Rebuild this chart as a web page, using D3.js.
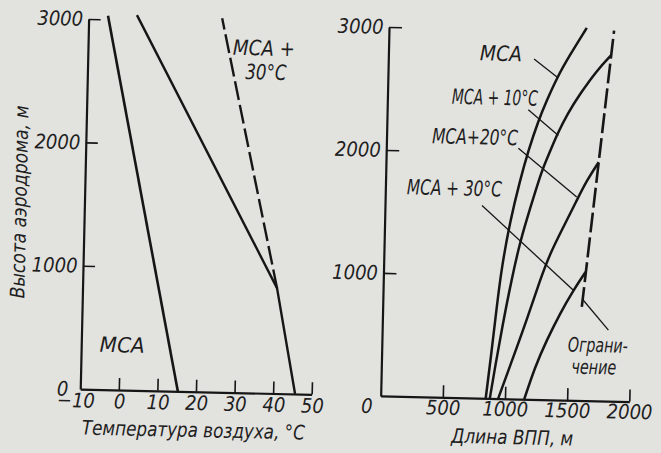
<!DOCTYPE html>
<html><head><meta charset="utf-8">
<script src="https://cdn.jsdelivr.net/npm/d3@7"></script>
<style>
html,body{margin:0;padding:0;background:#e2e2df;}
svg{display:block;background:#e2e2df;}
text{font-family:"Liberation Sans Narrow","DejaVu Sans Condensed","Liberation Sans",sans-serif;font-style:italic;fill:#1e1e1e;}
</style></head><body>
<svg id="c" width="661" height="453"></svg>
<script>
// ---------- data ----------
const tempTicks = [-10, 0, 10, 20, 30, 40, 50];
const heightTicks = [0, 1000, 2000, 3000];
const lengthTicks = [0, 500, 1000, 1500, 2000];

// left panel: air temperature (°C) vs aerodrome elevation (m)
const msaTemp = [15.3, -5.0];
const msaTempHeight = [0, 3030];
const limitTemp = [45.7, 40.4, 2.5];
const limitTempHeight = [0, 854, 3040];
const msa30Temp = [40.4, 24.6];
const msa30TempHeight = [854, 3030];

// right panel: runway length (m) vs aerodrome elevation (m)
const rwyMsaLen = [845, 885, 917, 950, 1010, 1081, 1143, 1218, 1281, 1362, 1450, 1590];
const rwyMsaH   = [0, 393, 745, 1070, 1450, 1777, 2022, 2267, 2431, 2623, 2790, 3029];
const rwyMsa10Len = [878, 915, 965, 1030, 1095, 1170, 1254, 1310, 1373, 1450, 1548, 1678, 1790];
const rwyMsa10H   = [0, 258, 583, 964, 1290, 1560, 1862, 2000, 2163, 2327, 2492, 2684, 2810];
const rwyMsa20Len = [945, 1060, 1160, 1260, 1336, 1438, 1541, 1618, 1710];
const rwyMsa20H   = [0, 342, 643, 970, 1188, 1406, 1625, 1789, 1940];
const rwyMsa30Len = [1155, 1236, 1325, 1427, 1530, 1625];
const rwyMsa30H   = [0, 265, 484, 703, 894, 1045];
const rwyLimitLen = [1601, 1810];
const rwyLimitH   = [760, 3012];

// leader lines (from label to curve), in data units [length, height]
const leaderMsa   = [[1172, 2767], [1362, 2623]];
const leaderMsa10 = [[1135, 2353], [1381, 2150]];
const leaderMsa20 = [[1062, 2039], [1540, 1652]];
const leaderMsa30 = [[780, 1567], [1530, 894]];
const leaderLimit = [[1612, 815], [1819, 576]];

// ---------- drawing ----------
const ink = "#161616";
const svg = d3.select("#c");
const g = svg.append("g").attr("transform", "rotate(1.3,330,226)");

const xL = d3.scaleLinear().domain([-10, 50]).range([84, 315.5]);
const yL = d3.scaleLinear().domain([0, 3000]).range([394.7, 24.5]);
const xR = d3.scaleLinear().domain([0, 2000]).range([384.5, 633.2]);
const yR = d3.scaleLinear().domain([0, 3000]).range([394.7, 25.7]);

function styleAxis(sel) {
  sel.select(".domain").attr("stroke", ink).attr("stroke-width", 2.2);
  sel.selectAll(".tick line").attr("stroke", ink).attr("stroke-width", 1.6);
  sel.selectAll(".tick text").remove();
}

// left axes
g.append("g").attr("transform", `translate(0,${yL(0)})`)
  .call(d3.axisBottom(xL).tickValues(tempTicks.slice(1)).tickSizeInner(-12).tickSizeOuter(0).tickFormat(""))
  .call(styleAxis);
g.append("g").attr("transform", `translate(${xL(-10)},0)`)
  .call(d3.axisLeft(yL).tickValues(heightTicks.slice(1)).tickSizeInner(-12).tickSizeOuter(0).tickFormat(""))
  .call(styleAxis);

// right axes
g.append("g").attr("transform", `translate(0,${yR(0)})`)
  .call(d3.axisBottom(xR).tickValues(lengthTicks.slice(1)).tickSizeInner(-12).tickSizeOuter(0).tickFormat(""))
  .call(styleAxis);
g.append("g").attr("transform", `translate(${xR(0)},0)`)
  .call(d3.axisLeft(yR).tickValues(heightTicks.slice(1)).tickSizeInner(-13).tickSizeOuter(0).tickFormat(""))
  .call(styleAxis);

// tick labels
const tickFont = 20;
g.selectAll(".tlx").data(tempTicks).join("text")
  .attr("x", d => xL(d) + (d < 0 ? -4 : 1)).attr("y", 413)
  .attr("text-anchor", "middle").attr("font-size", tickFont)
  .text(d => d < 0 ? "\u2212" + Math.abs(d) : d);
g.selectAll(".tly").data(heightTicks).join("text")
  .attr("x", d => d === 0 ? xL(-10) - 12 : xL(-10) - 5.5)
  .attr("y", d => yL(d) + 7)
  .attr("text-anchor", "end").attr("font-size", tickFont)
  .text(d => d);
g.selectAll(".trx").data(lengthTicks).join("text")
  .attr("x", d => d === 0 ? xR(d) - 13.5 : xR(d) + 0.5).attr("y", 412)
  .attr("text-anchor", "middle").attr("font-size", tickFont)
  .text(d => d);
g.selectAll(".try").data(heightTicks.slice(1)).join("text")
  .attr("x", xR(0) - 5.5).attr("y", d => yR(d) + 7)
  .attr("text-anchor", "end").attr("font-size", tickFont)
  .text(d => d);

// axis titles
g.append("text").attr("transform", "translate(26,209) rotate(-90)")
  .attr("text-anchor", "middle").attr("font-size", 20)
  .attr("textLength", 193).attr("lengthAdjust", "spacingAndGlyphs")
  .text("Высота аэродрома, м");
g.append("text").attr("x", 198).attr("y", 440)
  .attr("text-anchor", "middle").attr("font-size", 20)
  .attr("textLength", 223).attr("lengthAdjust", "spacingAndGlyphs")
  .text("Температура воздуха, °С");
g.append("text").attr("x", 517).attr("y", 440)
  .attr("text-anchor", "middle").attr("font-size", 20)
  .attr("textLength", 122).attr("lengthAdjust", "spacingAndGlyphs")
  .text("Длина ВПП, м");

// left curves
function lineL(t, h) { return d3.line().x(d => xL(t[d])).y(d => yL(h[d]))(d3.range(t.length)); }
g.append("path").attr("d", lineL(msaTemp, msaTempHeight))
  .attr("fill", "none").attr("stroke", ink).attr("stroke-width", 2.6);
g.append("path").attr("d", lineL(limitTemp, limitTempHeight))
  .attr("fill", "none").attr("stroke", ink).attr("stroke-width", 2.4).attr("stroke-linejoin", "round");
g.append("path").attr("d", lineL(msa30Temp, msa30TempHeight))
  .attr("fill", "none").attr("stroke", ink).attr("stroke-width", 2.4).attr("stroke-dasharray", "19,5");

// right curves
function lineR(l, h, curve) {
  return d3.line().x(d => xR(l[d])).y(d => yR(h[d])).curve(curve || d3.curveLinear)(d3.range(l.length));
}
[[rwyMsaLen, rwyMsaH], [rwyMsa10Len, rwyMsa10H], [rwyMsa20Len, rwyMsa20H], [rwyMsa30Len, rwyMsa30H]]
  .forEach(([l, h]) => {
    g.append("path").attr("d", lineR(l, h, d3.curveBasis))
      .attr("fill", "none").attr("stroke", ink).attr("stroke-width", 2.5);
  });
g.append("path").attr("d", lineR(rwyLimitLen, rwyLimitH))
  .attr("fill", "none").attr("stroke", ink).attr("stroke-width", 2.6).attr("stroke-dasharray", "20,5");

// leader lines
[leaderMsa, leaderMsa10, leaderMsa20, leaderMsa30, leaderLimit].forEach(seg => {
  g.append("line")
    .attr("x1", xR(seg[0][0])).attr("y1", yR(seg[0][1]))
    .attr("x2", xR(seg[1][0])).attr("y2", yR(seg[1][1]))
    .attr("stroke", ink).attr("stroke-width", 1.3);
});

// annotations
function label(x, y, txt, w, fs) {
  g.append("text").attr("x", x).attr("y", y).attr("text-anchor", "middle")
    .attr("font-size", fs || 21).attr("textLength", w).attr("lengthAdjust", "spacingAndGlyphs")
    .text(txt);
}
label(260, 57, "МСА +", 62);
label(262.5, 81, "30°С", 41);
label(125, 357, "МСА", 45);
label(497, 57, "МСА", 42);
label(492, 101, "МСА + 10°С", 86);
label(473, 141, "МСА+20°С", 86);
label(453.5, 192.5, "МСА + 30°С", 95);
label(600.5, 346, "Ограни-", 60, 20);
label(597, 368, "чение", 45, 20);
</script>
</body></html>
